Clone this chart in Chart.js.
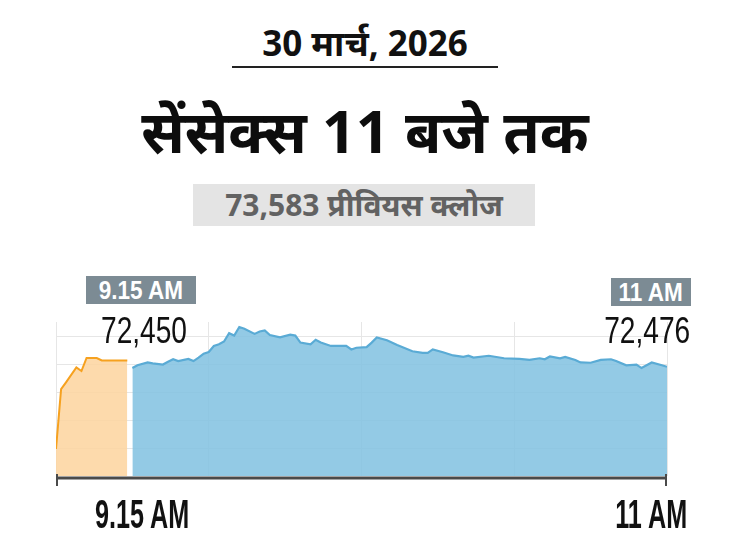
<!DOCTYPE html>
<html>
<head>
<meta charset="utf-8">
<script src="https://cdn.jsdelivr.net/npm/chart.js@4"></script>
<style>
  body { margin: 0; background: #fff; }
  #page { position: relative; width: 730px; height: 548px; overflow: hidden; background: #fff; font-family: "Noto Sans", "Noto Sans Devanagari", sans-serif; }
  .abs { position: absolute; white-space: nowrap; }
  #date { top: 21px; left: 0; width: 730px; text-align: center; font-weight: 700; font-size: 35px; color: #111; line-height: 44px; }
  #rule { top: 66px; left: 232px; width: 266px; height: 1.5px; background: #222; }
  #title { top: 88px; left: 0; width: 730px; text-align: center; font-weight: 700; font-size: 59px; color: #0d0d0d; line-height: 84px; }
  #prev { top: 184px; left: 193px; width: 342px; height: 42px; background: #e4e4e4; color: #626262; text-align: center; font-weight: 700; font-size: 30px; line-height: 42px; }
  .badge { background: #7c8b94; color: #fff; text-align: center; font-family: "Liberation Sans", Arial, sans-serif; font-weight: 700; font-size: 25px; line-height: 28px; height: 28px; }
  .badge span { display: inline-block; transform: scaleX(0.9); }
  .val { font-family: "Liberation Sans Narrow", "Liberation Sans", sans-serif; font-size: 37px; color: #111; line-height: 40px; }
  .axl { font-family: "Liberation Sans Narrow", "Liberation Sans", sans-serif; font-weight: 700; font-size: 40px; color: #111; line-height: 44px; }
  #chartBox { position: absolute; left: 0; top: 300px; width: 730px; height: 200px; }
</style>
</head>
<body>
<div id="page">
  <div class="abs" id="date">30 मार्च, 2026</div>
  <div class="abs" id="rule"></div>
  <div class="abs" id="title">सेंसेक्स 11 बजे तक</div>
  <div class="abs" id="prev">73,583 प्रीवियस क्लोज</div>

  <div id="chartBox"><canvas id="sensexChart"></canvas></div>

  <div class="abs badge" style="left:86px; top:276px; width:110px;"><span>9.15 AM</span></div>
  <div class="abs badge" style="left:611px; top:278px; width:80px;"><span>11 AM</span></div>
  <div class="abs val" style="left:101px; top:311px; transform:scaleX(0.76); transform-origin:left;">72,450</div>
  <div class="abs val" style="right:40px; top:311px; transform:scaleX(0.76); transform-origin:right;">72,476</div>
  <div class="abs axl" style="left:95px; top:492px; transform:scaleX(0.63); transform-origin:left;">9.15 AM</div>
  <div class="abs axl" style="right:43px; top:492px; transform:scaleX(0.63); transform-origin:right;">11 AM</div>
</div>

<script>
// minutes after 9:00 AM
const orangeTimes = [0, 1, 2, 4, 5, 6, 8, 9, 14];
const orangeValues = [71893, 72321, 72371, 72475, 72450, 72543, 72543, 72525, 72525];

const blueTimes = [15, 16, 18, 19, 21, 22, 23, 24, 26, 27, 28, 29, 30, 31, 32, 33, 34, 35, 36, 37,
    39, 40, 41, 42, 44, 46, 47, 48, 50, 51, 52, 54, 57, 58, 59, 61, 62, 63, 65, 67,
    70, 72, 73, 74, 76, 78, 80, 81, 82, 85, 88, 91, 93, 95, 96, 97, 99, 100, 102, 103,
    105, 107, 109, 110, 112, 114, 115, 117, 119, 120];
const blueValues = [72471, 72491, 72511, 72504, 72496, 72516, 72534, 72521, 72536, 72521, 72546, 72574, 72586, 72629, 72641, 72661, 72720, 72703, 72764, 72752,
    72715, 72732, 72740, 72707, 72690, 72710, 72703, 72653, 72641, 72673, 72653, 72629, 72629, 72604, 72616, 72621, 72653, 72690, 72670, 72636,
    72591, 72579, 72579, 72604, 72584, 72561, 72551, 72559, 72546, 72559, 72541, 72536, 72529, 72541, 72534, 72554, 72541, 72551, 72529, 72511,
    72509, 72529, 72534, 72521, 72491, 72496, 72471, 72511, 72491, 72480];

const yGrid = [71900, 72100, 72300, 72500, 72700];
const Y_MIN = 71700;
const Y_MAX = 72800;

function toPoints(times, values) {
    return times.map((t, i) => ({ x: t, y: values[i] }));
}

// dark baseline with end marks
const axisLine = {
    id: "axisLine",
    afterDatasetsDraw(chart) {
        const { ctx, chartArea } = chart;
        const y = chartArea.bottom + 2;
        ctx.save();
        ctx.strokeStyle = "#4a4a4a";
        ctx.lineWidth = 3;
        ctx.beginPath();
        ctx.moveTo(chartArea.left, y);
        ctx.lineTo(chartArea.right, y);
        ctx.stroke();
        ctx.lineWidth = 2;
        ctx.beginPath();
        ctx.moveTo(chartArea.left + 1, y - 4);
        ctx.lineTo(chartArea.left + 1, y + 8);
        ctx.moveTo(chartArea.right - 1, y - 4);
        ctx.lineTo(chartArea.right - 1, y + 8);
        ctx.stroke();
        ctx.restore();
    }
};

const ctx = document.getElementById("sensexChart").getContext("2d");
const sensexChart = new Chart(ctx, {
    type: "line",
    data: {
        datasets: [
            {
                label: "Pre-open",
                data: toPoints(orangeTimes, orangeValues),
                borderColor: "#f6a11f",
                backgroundColor: "rgba(253, 212, 158, 0.85)",
                borderWidth: 2,
                fill: "start",
                pointRadius: 0,
                tension: 0,
            },
            {
                label: "Sensex",
                data: toPoints(blueTimes, blueValues),
                borderColor: "#5aabd5",
                backgroundColor: "rgba(128, 193, 224, 0.85)",
                borderWidth: 2.2,
                fill: "start",
                pointRadius: 0,
                tension: 0,
            },
        ],
    },
    options: {
        responsive: true,
        maintainAspectRatio: false,
        animation: false,
        layout: {
            padding: { left: 56, right: 63, top: 22, bottom: 24 },
        },
        plugins: {
            legend: { display: false },
            tooltip: { enabled: false },
        },
        scales: {
            x: {
                type: "linear",
                min: 0,
                max: 120,
                ticks: { display: false, stepSize: 30 },
                grid: { color: "#e6e6e6", lineWidth: 1, drawTicks: false },
                border: { display: false },
            },
            y: {
                min: Y_MIN,
                max: Y_MAX,
                afterBuildTicks: (scale) => {
                    scale.ticks = yGrid.map(v => ({ value: v }));
                },
                ticks: { display: false },
                grid: { color: "#e6e6e6", lineWidth: 1, drawTicks: false },
                border: { display: false },
            },
        },
    },
    plugins: [axisLine],
});
</script>
</body>
</html>
